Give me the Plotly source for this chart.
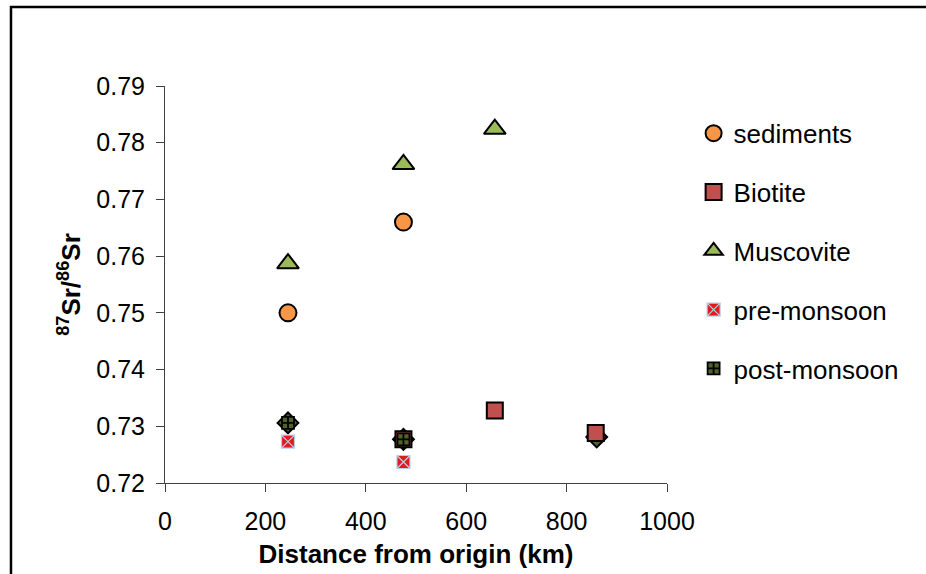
import plotly.graph_objects as go

# Sr isotope ratios against distance from origin (km)
sed_x = [245, 475]
sed_y = [0.7500, 0.7660]

bio_x = [475, 657, 858]
bio_y = [0.7277, 0.7328, 0.7288]

mus_x = [245, 475, 657]
mus_y = [0.7587, 0.7762, 0.7824]

pre_x = [245, 475]
pre_y = [0.7273, 0.7237]

post_x = [245, 475]
post_y = [0.7306, 0.7277]

# river water values (plotted behind, not listed in the key)
riv_x = [245, 475, 860]
riv_y = [0.7306, 0.7277, 0.7281]

x_ticks = [0, 200, 400, 600, 800, 1000]
y_ticks = [0.72, 0.73, 0.74, 0.75, 0.76, 0.77, 0.78, 0.79]

FONT = "Arial, Liberation Sans, sans-serif"

fig = go.Figure()

fig.add_trace(go.Scatter(
    x=riv_x, y=riv_y, mode="markers", showlegend=False, hoverinfo="skip",
    marker=dict(symbol="diamond", size=16, color="#4F6228",
                line=dict(color="black", width=2)),
))
fig.add_trace(go.Scatter(
    x=sed_x, y=sed_y, mode="markers", name="sediments", legendgroup="a",
    marker=dict(symbol="circle", size=17, color="#F79646",
                line=dict(color="black", width=2)),
))
fig.add_trace(go.Scatter(
    x=bio_x, y=bio_y, mode="markers", name="Biotite", legendgroup="b",
    marker=dict(symbol="square", size=16, color="#C0504D",
                line=dict(color="black", width=2)),
))
fig.add_trace(go.Scatter(
    x=mus_x, y=mus_y, mode="markers", name="Muscovite", legendgroup="c",
    marker=dict(symbol="triangle-up", size=19, color="#9BBB59",
                line=dict(color="black", width=2)),
))
fig.add_trace(go.Scatter(
    x=pre_x, y=pre_y, mode="markers", name="pre-monsoon", legendgroup="d",
    marker=dict(symbol="square-x", size=13, color="#E31A1C",
                line=dict(color="#B9CDE5", width=1.2)),
))
fig.add_trace(go.Scatter(
    x=post_x, y=post_y, mode="markers", name="post-monsoon", legendgroup="e",
    marker=dict(symbol="square-cross", size=12, color="#4F6228",
                line=dict(color="black", width=1.8)),
))

# open frame along the top and left edges
fig.add_shape(type="path", xref="paper", yref="paper",
              path="M -0.3068,-0.3 L -0.3068,1.199 L 1.6,1.199",
              line=dict(color="black", width=2.5))

fig.update_layout(
    width=926, height=574,
    margin=dict(l=165, r=259, t=86, b=91),
    paper_bgcolor="white", plot_bgcolor="white",
    font=dict(family=FONT, color="black", size=25),
    showlegend=True,
    legend=dict(x=1.053, y=0.94, xanchor="left", yanchor="top",
                font=dict(size=26, family=FONT), tracegroupgap=22,
                traceorder="grouped", itemwidth=30,
                bgcolor="rgba(0,0,0,0)"),
    xaxis=dict(range=[0, 1000], tickvals=x_ticks, ticks="outside", ticklen=8,
               tickcolor="#404040", showline=True, linecolor="#404040", linewidth=1,
               showgrid=False, zeroline=False, tickfont=dict(size=25),
               ticklabelstandoff=8,
               title=dict(text="<b>Distance from origin (km)</b>",
                          font=dict(size=26), standoff=10)),
    yaxis=dict(range=[0.72, 0.79], tickvals=y_ticks, tickformat=".2f",
               ticks="outside", ticklen=8, tickcolor="#404040",
               showline=True, linecolor="#404040", linewidth=1,
               showgrid=False, zeroline=False, tickfont=dict(size=25),
               ticklabelstandoff=6,
               title=dict(text="<b><sup>87</sup>Sr/<sup>86</sup>Sr</b>",
                          font=dict(size=26), standoff=8)),
)

fig.write_html("out.html")
